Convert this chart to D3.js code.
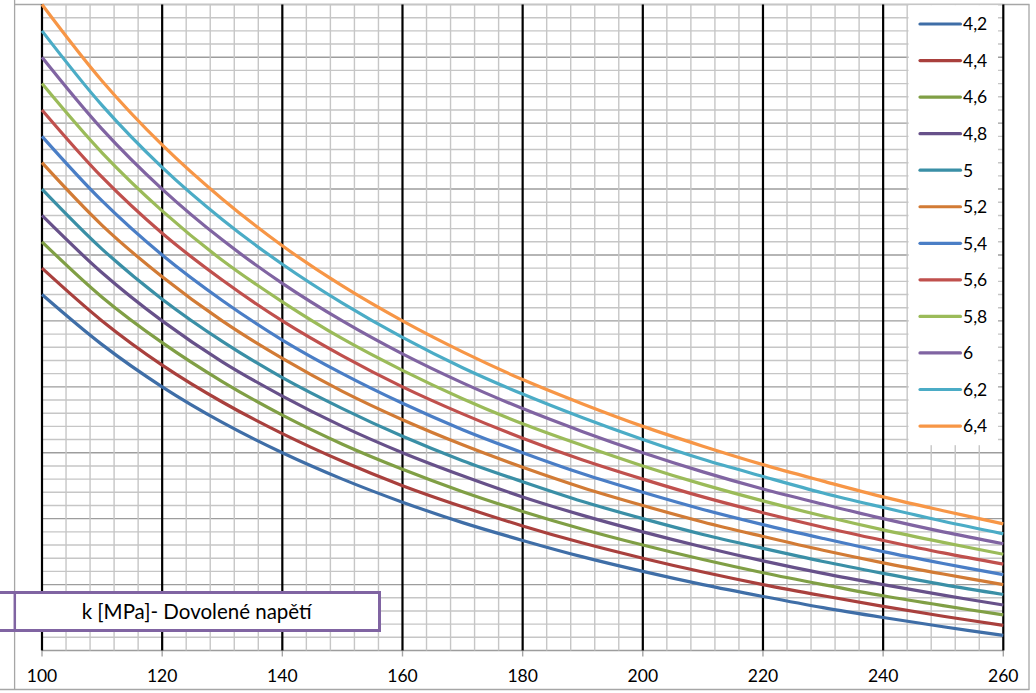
<!DOCTYPE html>
<html><head><meta charset="utf-8">
<script src="https://cdn.jsdelivr.net/npm/d3@7/dist/d3.min.js"></script>
<style>body{margin:0;background:#fff}svg{display:block}</style>
</head><body>
<script>
// ---- data ----
const kValues = [100,110,120,130,140,150,160,170,180,190,200,210,220,230,240,250,260];
const seriesNames = ["4,2","4,4","4,6","4,8","5","5,2","5,4","5,6","5,8","6","6,2","6,4"];
const s42 = [8.40,7.64,7.00,6.46,6.00,5.60,5.25,4.94,4.67,4.42,4.20,4.00,3.82,3.65,3.50,3.36,3.23];
const s44 = [8.80,8.00,7.33,6.77,6.29,5.87,5.50,5.18,4.89,4.63,4.40,4.19,4.00,3.83,3.67,3.52,3.38];
const s46 = [9.20,8.36,7.67,7.08,6.57,6.13,5.75,5.41,5.11,4.84,4.60,4.38,4.18,4.00,3.83,3.68,3.54];
const s48 = [9.60,8.73,8.00,7.38,6.86,6.40,6.00,5.65,5.33,5.05,4.80,4.57,4.36,4.17,4.00,3.84,3.69];
const s50 = [10.00,9.09,8.33,7.69,7.14,6.67,6.25,5.88,5.56,5.26,5.00,4.76,4.55,4.35,4.17,4.00,3.85];
const s52 = [10.40,9.45,8.67,8.00,7.43,6.93,6.50,6.12,5.78,5.47,5.20,4.95,4.73,4.52,4.33,4.16,4.00];
const s54 = [10.80,9.82,9.00,8.31,7.71,7.20,6.75,6.35,6.00,5.68,5.40,5.14,4.91,4.70,4.50,4.32,4.15];
const s56 = [11.20,10.18,9.33,8.62,8.00,7.47,7.00,6.59,6.22,5.89,5.60,5.33,5.09,4.87,4.67,4.48,4.31];
const s58 = [11.60,10.55,9.67,8.92,8.29,7.73,7.25,6.82,6.44,6.11,5.80,5.52,5.27,5.04,4.83,4.64,4.46];
const s60 = [12.00,10.91,10.00,9.23,8.57,8.00,7.50,7.06,6.67,6.32,6.00,5.71,5.45,5.22,5.00,4.80,4.62];
const s62 = [12.40,11.27,10.33,9.54,8.86,8.27,7.75,7.29,6.89,6.53,6.20,5.90,5.64,5.39,5.17,4.96,4.77];
const s64 = [12.80,11.64,10.67,9.85,9.14,8.53,8.00,7.53,7.11,6.74,6.40,6.10,5.82,5.57,5.33,5.12,4.92];
const seriesValues = [s42,s44,s46,s48,s50,s52,s54,s56,s58,s60,s62,s64];
const colors = ["#3F6EA7","#A9403D","#809F45","#67518A","#3A8FA6","#D27B35",
                "#4A7EC6","#C0504D","#9BBB59","#8064A2","#4BACC6","#F79646"];
const xTickLabels = [100,120,140,160,180,200,220,240,260];
const xLabel = "k [MPa]- Dovolené napětí";

// ---- chart ----
const W = 1036, H = 693;
const svg = d3.select("body").append("svg").attr("width", W).attr("height", H);
const x = d3.scaleLinear().domain([100, 260]).range([42, 1003.3]);
const y = d3.scaleLinear().domain([3, 12.8]).range([650.5, 4.5]);
const FONT = "Lato, 'Open Sans', sans-serif";

// chart frame
const frame = svg.append("g").attr("stroke", "#a6a6a6").attr("stroke-width", 1.3).attr("fill", "none");
frame.append("line").attr("x1", 14.6).attr("x2", 14.6).attr("y1", 0).attr("y2", 690);
frame.append("line").attr("x1", 14).attr("x2", 1029.5).attr("y1", 4.5).attr("y2", 4.5);
frame.append("line").attr("x1", 1029).attr("x2", 1029).attr("y1", 4.5).attr("y2", 689.5);
frame.append("line").attr("x1", 0).attr("x2", 1029.5).attr("y1", 689.5).attr("y2", 689.5);

// horizontal gridlines
const hVals = d3.range(0, 50).map(i => +(3 + i * 0.2).toFixed(1));
svg.append("g").selectAll("line").data(hVals).join("line")
  .attr("x1", x(100)).attr("x2", x(260))
  .attr("y1", d => y(d)).attr("y2", d => y(d))
  .attr("stroke", d => Math.abs(d - Math.round(d)) < 1e-6 ? "#9d9d9d" : "#c6c6c6")
  .attr("stroke-width", 1.4);

// vertical minor gridlines
const vMinor = d3.range(100, 261, 4).filter(d => d % 20 !== 0);
svg.append("g").selectAll("line").data(vMinor).join("line")
  .attr("x1", d => x(d)).attr("x2", d => x(d))
  .attr("y1", y(12.8)).attr("y2", y(3))
  .attr("stroke", "#c6c6c6").attr("stroke-width", 1.4);

// tick marks below axis
svg.append("g").selectAll("line").data(xTickLabels).join("line")
  .attr("x1", d => x(d)).attr("x2", d => x(d))
  .attr("y1", y(3)).attr("y2", y(3) + 6)
  .attr("stroke", "#a6a6a6").attr("stroke-width", 1.4);

// major vertical lines
svg.append("g").selectAll("line").data(xTickLabels).join("line")
  .attr("x1", d => x(d)).attr("x2", d => x(d))
  .attr("y1", y(12.8)).attr("y2", y(3))
  .attr("stroke", "#000").attr("stroke-width", 2.2);

// x tick labels
svg.append("g").selectAll("text").data(xTickLabels).join("text")
  .attr("x", d => x(d)).attr("y", 681.5)
  .attr("text-anchor", "middle")
  .attr("font-family", FONT).attr("font-size", 17.5).attr("fill", "#000")
  .text(d => d);

// series
const line = d3.line().x((d, i) => x(kValues[i])).y(d => y(d)).curve(d3.curveCatmullRom.alpha(0.5));
svg.append("g").selectAll("path").data(seriesValues).join("path")
  .attr("d", d => line(d))
  .attr("fill", "none")
  .attr("stroke", (d, i) => colors[i])
  .attr("stroke-width", 3.2)
  .attr("stroke-linejoin", "round");

// legend
const lg = svg.append("g");
lg.append("rect").attr("x", 908.5).attr("y", 5.2).attr("width", 89.5).attr("height", 440).attr("fill", "#fff");
const ly0 = 24, ldy = 36.55;
seriesNames.forEach((n, i) => {
  const yy = ly0 + i * ldy;
  lg.append("line").attr("x1", 920).attr("x2", 960.5).attr("y1", yy).attr("y2", yy)
    .attr("stroke", colors[i]).attr("stroke-width", 3.2).attr("stroke-linecap", "round");
  lg.append("text").attr("x", 963).attr("y", yy).attr("dy", "0.36em")
    .attr("font-family", FONT).attr("font-size", 17.5).attr("fill", "#000").text(n);
});

// axis title box
const tb = svg.append("g");
tb.append("rect").attr("x", -10).attr("y", 592.5).attr("width", 389.5).attr("height", 38)
  .attr("fill", "#fff").attr("stroke", "#8064A2").attr("stroke-width", 3);
tb.append("line").attr("x1", 14.8).attr("x2", 14.8).attr("y1", 592.5).attr("y2", 630.5)
  .attr("stroke", "#8064A2").attr("stroke-width", 2.5);
tb.append("text").attr("x", 196.7).attr("y", 612).attr("dy", "0.35em")
  .attr("text-anchor", "middle").attr("font-family", FONT).attr("font-size", 20.5).attr("fill", "#000")
  .text(xLabel);
</script>
</body></html>
